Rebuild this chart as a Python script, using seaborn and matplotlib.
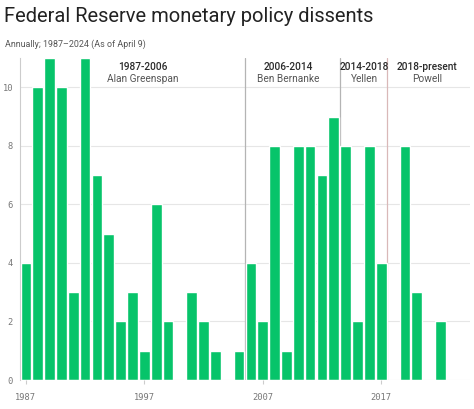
import numpy as np
import pandas as pd
import matplotlib.pyplot as plt
import seaborn as sns

# ---------- Data ----------
years = list(range(1987, 2025))
dissents = [4, 10, 11, 10, 3, 11, 7, 5, 2, 3,
            1, 6, 2, 0, 3, 2, 1, 0, 1, 4,
            2, 8, 1, 8, 8, 7, 9, 8, 2, 8,
            4, 0, 8, 3, 0, 2, 0, 0]
chairs = ["Alan Greenspan", "Ben Bernanke", "Yellen", "Powell"]
terms = ["1987-2006", "2006-2014", "2014-2018", "2018-present"]
term_breaks = [2006, 2014, 2018]  # line drawn just before these years
tick_years = [1987, 1997, 2007, 2017]

df = pd.DataFrame({"year": years, "dissents": dissents})

# ---------- Setup ----------
sns.set_theme(style="white")
plt.rcParams["font.family"] = ["Roboto", "DejaVu Sans"]

fig = plt.figure(figsize=(4.74, 4.09), dpi=100)
ax = fig.add_axes([20 / 474, 29 / 409, 450 / 474, 322 / 409])

green = "#07c46a"
sns.barplot(data=df, x="year", y="dissents", order=years, color=green,
            width=0.9, saturation=1, ax=ax, zorder=3)

# gridlines
for v in range(2, 11, 2):
    ax.axhline(v, color="#e6e6e6", lw=0.8, zorder=1)

# chair term boundaries
for i, b in enumerate(term_breaks):
    pos = years.index(b) - 0.5
    ax.axvline(pos, color="#b4b4b4" if i < 2 else "#d9b8b8", lw=0.9, zorder=2)

# term labels
label_x = [9.84, 22.17, 28.6, 33.9]
for tx, term, name in zip(label_x, terms, chairs):
    ax.text(tx, 10.7, term, ha="center", va="center", fontsize=7.3,
            color="#2a2a2a", fontweight="medium")
    ax.text(tx, 10.27, name, ha="center", va="center", fontsize=7.3, color="#555555")

ax.set_xlim(-0.5, len(years) - 0.5)
ax.set_ylim(0, 11)
ax.set_xticks([years.index(y) for y in tick_years])
ax.set_xticklabels([str(y) for y in tick_years])
ax.set_yticks(range(0, 11, 2))
for lab in ax.get_xticklabels() + ax.get_yticklabels():
    lab.set_family("DejaVu Sans Mono")
    lab.set_fontsize(6.3)
    lab.set_color("#777777")
ax.tick_params(axis="x", length=3, color="#cccccc", pad=6, width=0.8, bottom=True)
ax.tick_params(axis="y", length=0, pad=5)
ax.set_xlabel("")
ax.set_ylabel("")
for s in ["top", "right", "bottom"]:
    ax.spines[s].set_visible(False)
ax.spines["left"].set_color("#cccccc")
ax.spines["left"].set_linewidth(0.8)
ax.axhline(0, color="#dddddd", lw=0.8, zorder=4)

fig.text(4 / 474, 1 - 17 / 409, "Federal Reserve monetary policy dissents",
         fontsize=14.5, color="#222222", va="center", ha="left")
fig.text(5 / 474, 1 - 44 / 409, "Annually; 1987–2024 (As of April 9)",
         fontsize=6.4, color="#555555", va="center", ha="left")

fig.savefig("out.png", dpi=100)
